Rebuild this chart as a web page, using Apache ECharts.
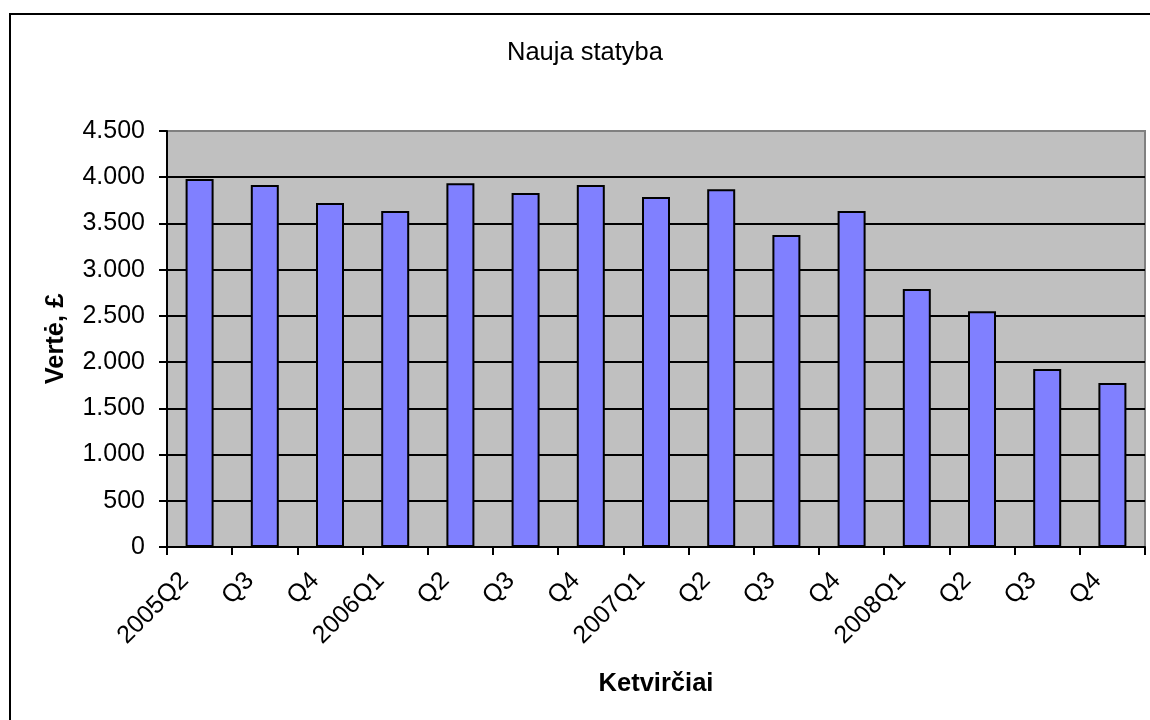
<!DOCTYPE html>
<html>
<head>
<meta charset="utf-8">
<script src="https://cdn.jsdelivr.net/npm/echarts@6/dist/echarts.min.js"></script>
<style>
  html, body { margin: 0; padding: 0; background: #fff; }
  #chart { width: 1150px; height: 720px; }
</style>
</head>
<body>
<div id="chart"></div>
<script>
// Quarterly value of new construction
const categories = ['2005Q2', 'Q3', 'Q4', '2006Q1', 'Q2', 'Q3', 'Q4', '2007Q1', 'Q2', 'Q3', 'Q4', '2008Q1', 'Q2', 'Q3', 'Q4'];
const values = [3980, 3915, 3720, 3635, 3935, 3830, 3915, 3785, 3870, 3375, 3635, 2790, 2550, 1925, 1775];
const titleText = 'Nauja statyba';
const xAxisName = 'Ketvirčiai';
const yAxisName = 'Vertė, £';

const FONT = '"Liberation Sans", Arial, sans-serif';

// thousands separator as a dot, e.g. 4.500
function fmt(v) {
  return String(v).replace(/\B(?=(\d{3})+(?!\d))/g, '.');
}

const chart = echarts.init(document.getElementById('chart'), null, { renderer: 'canvas' });
chart.setOption({
  animation: false,
  backgroundColor: '#ffffff',
  textStyle: { fontFamily: FONT },
  title: {
    text: titleText,
    left: 507,
    top: 40,
    padding: 0,
    textStyle: { fontFamily: FONT, fontSize: 25.5, fontWeight: 'normal', color: '#000' }
  },
  grid: {
    left: 167,
    top: 131,
    width: 978,
    height: 416,
    show: true,
    backgroundColor: '#C0C0C0',
    borderColor: '#808080',
    borderWidth: 2
  },
  xAxis: {
    type: 'category',
    data: categories,
    name: xAxisName,
    nameLocation: 'middle',
    nameGap: 124,
    nameTextStyle: { fontFamily: FONT, fontSize: 25.5, fontWeight: 'bold', color: '#000' },
    axisLine: { lineStyle: { color: '#000', width: 2 } },
    axisTick: { show: true, inside: false, length: 8, lineStyle: { color: '#000', width: 2 } },
    axisLabel: {
      interval: 0,
      rotate: 45,
      margin: 15,
      padding: [0, 21, 0, 0],
      fontFamily: FONT,
      fontSize: 25,
      color: '#000'
    },
    splitLine: { show: false }
  },
  yAxis: {
    type: 'value',
    min: 0,
    max: 4500,
    interval: 500,
    name: yAxisName,
    nameLocation: 'middle',
    nameGap: 98,
    nameRotate: 90,
    nameTextStyle: { fontFamily: FONT, fontSize: 25.5, fontWeight: 'bold', color: '#000' },
    axisLine: { show: true, lineStyle: { color: '#000', width: 2 } },
    axisTick: { show: true, inside: false, length: 8, lineStyle: { color: '#000', width: 2 } },
    axisLabel: {
      margin: 22,
      fontFamily: FONT,
      fontSize: 25,
      color: '#000',
      formatter: fmt
    },
    splitLine: { show: true, showMaxLine: false, lineStyle: { color: '#000', width: 2 } }
  },
  series: [{
    type: 'bar',
    data: values,
    barWidth: 28,
    itemStyle: { color: '#8080FF', borderColor: '#000', borderWidth: 2 }
  }],
  graphic: [{
    type: 'rect',
    shape: { x: 10, y: 14, width: 1300, height: 900 },
    style: { fill: null, stroke: '#000', lineWidth: 2 },
    silent: true,
    z: 100
  }]
});
</script>
</body>
</html>
